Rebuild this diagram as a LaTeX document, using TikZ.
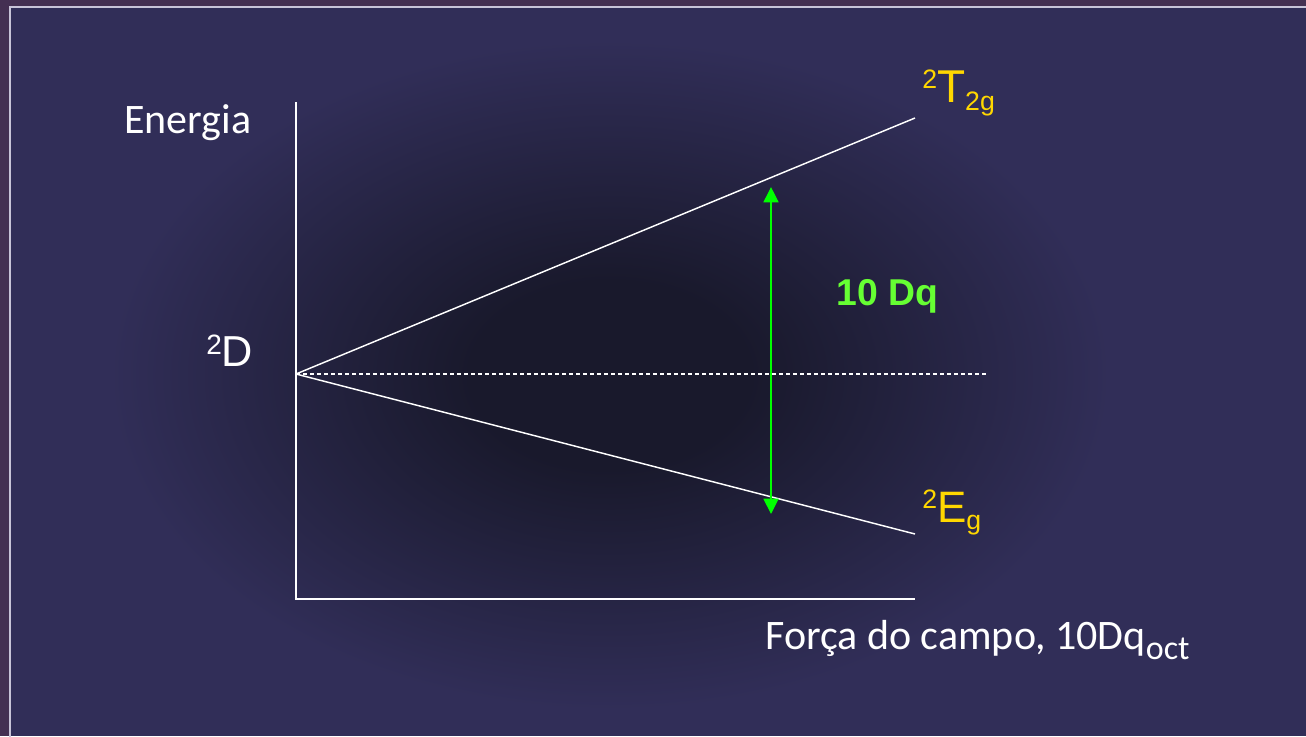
\documentclass[tikz,border=0pt]{standalone}
\usepackage{fontspec}
\setmainfont{Carlito}
\newfontfamily\arial{Liberation Sans}
\usetikzlibrary{arrows.meta}
\definecolor{bgc}{RGB}{49,46,88}
\definecolor{darkc}{RGB}{25,25,44}
\definecolor{outerc}{RGB}{68,48,82}
\definecolor{framec}{RGB}{200,196,216}
\definecolor{labely}{RGB}{255,215,0}
\definecolor{dqgreen}{RGB}{102,255,51}
\definecolor{arrowg}{RGB}{0,255,0}
\pgfdeclareradialshading{glow}{\pgfpoint{0bp}{0bp}}{color(0bp)=(darkc); color(7bp)=(darkc); color(25bp)=(bgc); color(50bp)=(bgc)}
\tikzset{
  axisline/.style={white, line width=1.1pt},
  levelline/.style={white, line width=1.1pt},
  refline/.style={white, line width=0.8pt, dash pattern=on 3pt off 2.25pt},
  gap/.style={arrowg, line width=1.1pt, {Triangle[width=11.25pt,length=11.5pt]}-{Triangle[width=11.25pt,length=11.5pt]}},
  calibri/.style={white, inner sep=0pt, anchor=base west, font=\fontsize{31.5}{31.5}\selectfont},
  term/.style={labely, inner sep=0pt, anchor=base west, font=\arial},
}
\begin{document}
\begin{tikzpicture}[x=0.75pt, y=-0.75pt]
\useasboundingbox (0,0) rectangle (1306,736);
\fill[outerc] (0,0) rectangle (1306,736);
\fill[bgc] (10,7) rectangle (1306,736);
\shade[shading=glow] (110,40) rectangle (1110,710);
\draw[framec, line width=1.3pt] (9.8,740) -- (9.8,6.8) -- (1310,6.8);

\coordinate (yTop) at (296,102);
\coordinate (orig) at (296,599);
\coordinate (xEnd) at (915,599);
\coordinate (O) at (296,374);
\coordinate (Tend) at (915,118);
\coordinate (Eend) at (915,534);
\coordinate (Dend) at (988,374);
\coordinate (A1) at (771,187);
\coordinate (A2) at (771,514);

\draw[axisline] (yTop) -- (orig) -- (xEnd);
\draw[levelline] (O) -- (Tend);
\draw[levelline] (O) -- (Eend);
\draw[refline] (O) -- (Dend);
\draw[gap] (A1) -- (A2);

\node[calibri] (energia) at (124,133) {Energia};
\node[calibri] (forca) at (765,649) {For\c{c}a do campo, 10Dq\raisebox{-8pt}{\fontsize{25.5}{25.5}\selectfont oct}};

\node[white, inner sep=0pt, anchor=base west, font=\arial] (Dlab) at (206,366)
  {{\fontsize{21}{21}\selectfont\raisebox{9pt}{2}}{\fontsize{32.5}{32.5}\selectfont D}};
\node[term] (Tlab) at (922,102)
  {{\fontsize{20}{20}\selectfont\raisebox{10.5pt}{2}}{\fontsize{34.5}{34.5}\selectfont T}{\fontsize{20}{20}\selectfont\raisebox{-6pt}{2g}}};
\node[term] (Elab) at (922,522)
  {{\fontsize{20}{20}\selectfont\raisebox{10.5pt}{2}}{\fontsize{33}{33}\selectfont E}{\fontsize{20}{20}\selectfont\raisebox{-5.5pt}{g}}};
\node[dqgreen, inner sep=0pt, anchor=base west, font=\arial\bfseries\fontsize{28}{28}\selectfont] (dq) at (836,305) {10 Dq};
\end{tikzpicture}
\end{document}
